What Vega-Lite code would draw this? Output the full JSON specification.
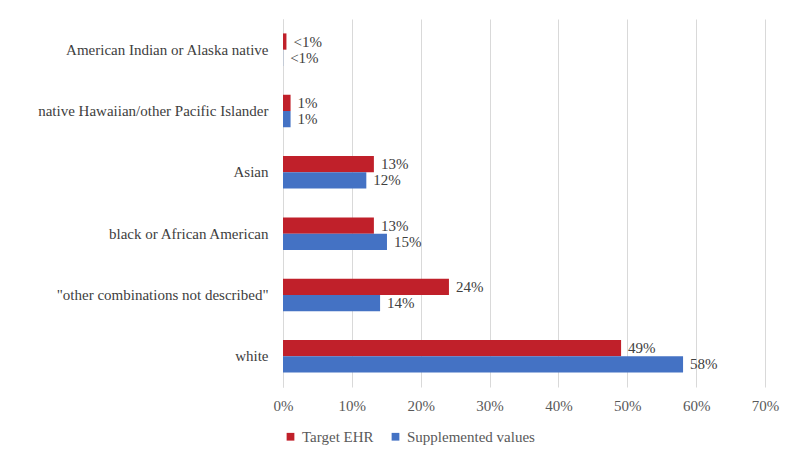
{
  "$schema": "https://vega.github.io/schema/vega-lite/v6.json",
  "width": 482,
  "height": 368,
  "autosize": "none",
  "padding": {"left": 283, "top": 19, "right": 35, "bottom": 82},
  "background": "white",
  "config": {
    "font": "Liberation Serif",
    "view": {"stroke": null}
  },
  "data": {
    "values": [
      {"category": "American Indian or Alaska native", "series": "Target EHR", "value": 0.5, "label": "<1%"},
      {"category": "American Indian or Alaska native", "series": "Supplemented values", "value": 0.02, "label": "<1%"},
      {"category": "native Hawaiian/other Pacific Islander", "series": "Target EHR", "value": 1.1, "label": "1%"},
      {"category": "native Hawaiian/other Pacific Islander", "series": "Supplemented values", "value": 1.1, "label": "1%"},
      {"category": "Asian", "series": "Target EHR", "value": 13.2, "label": "13%"},
      {"category": "Asian", "series": "Supplemented values", "value": 12.1, "label": "12%"},
      {"category": "black or African American", "series": "Target EHR", "value": 13.2, "label": "13%"},
      {"category": "black or African American", "series": "Supplemented values", "value": 15.1, "label": "15%"},
      {"category": "\"other combinations not described\"", "series": "Target EHR", "value": 24.1, "label": "24%"},
      {"category": "\"other combinations not described\"", "series": "Supplemented values", "value": 14.1, "label": "14%"},
      {"category": "white", "series": "Target EHR", "value": 49.1, "label": "49%"},
      {"category": "white", "series": "Supplemented values", "value": 58.1, "label": "58%"}
    ]
  },
  "encoding": {
    "y": {
      "field": "category",
      "type": "nominal",
      "sort": ["American Indian or Alaska native", "native Hawaiian/other Pacific Islander", "Asian", "black or African American", "\"other combinations not described\"", "white"],
      "scale": {"paddingInner": 0.47, "paddingOuter": 0.235},
      "axis": {
        "title": null,
        "ticks": false,
        "domainColor": "#d9d9d9",
        "labelFont": "Liberation Serif",
        "labelFontSize": 15,
        "labelColor": "#404040",
        "labelPadding": 15,
        "labelLimit": 300
      }
    },
    "yOffset": {
      "field": "series",
      "type": "nominal",
      "sort": ["Target EHR", "Supplemented values"],
      "scale": {"paddingInner": 0, "paddingOuter": 0}
    },
    "x": {
      "field": "value",
      "type": "quantitative",
      "scale": {"domain": [0, 70]},
      "axis": {
        "title": null,
        "values": [0, 10, 20, 30, 40, 50, 60, 70],
        "labelExpr": "datum.value + '%'",
        "labelFlush": false,
        "domain": false,
        "ticks": false,
        "gridColor": "#d9d9d9",
        "gridWidth": 1,
        "labelFont": "Liberation Serif",
        "labelFontSize": 15,
        "labelColor": "#595959",
        "labelPadding": 11
      }
    }
  },
  "layer": [
    {
      "mark": {"type": "bar"},
      "encoding": {
        "color": {
          "field": "series",
          "type": "nominal",
          "sort": ["Target EHR", "Supplemented values"],
          "scale": {"domain": ["Target EHR", "Supplemented values"], "range": ["#C0202A", "#4472C4"]},
          "legend": {
            "title": null,
            "orient": "bottom",
            "direction": "horizontal",
            "symbolType": "square",
            "symbolSize": 60,
            "symbolStrokeWidth": 0,
            "labelFont": "Liberation Serif",
            "labelFontSize": 15,
            "labelColor": "#595959",
            "columnPadding": 14,
            "offset": 16
          }
        }
      }
    },
    {
      "mark": {"type": "text", "align": "left", "baseline": "middle", "dx": 7, "dy": 0, "font": "Liberation Serif", "fontSize": 15, "color": "#404040"},
      "encoding": {
        "text": {"field": "label"}
      }
    }
  ]
}
